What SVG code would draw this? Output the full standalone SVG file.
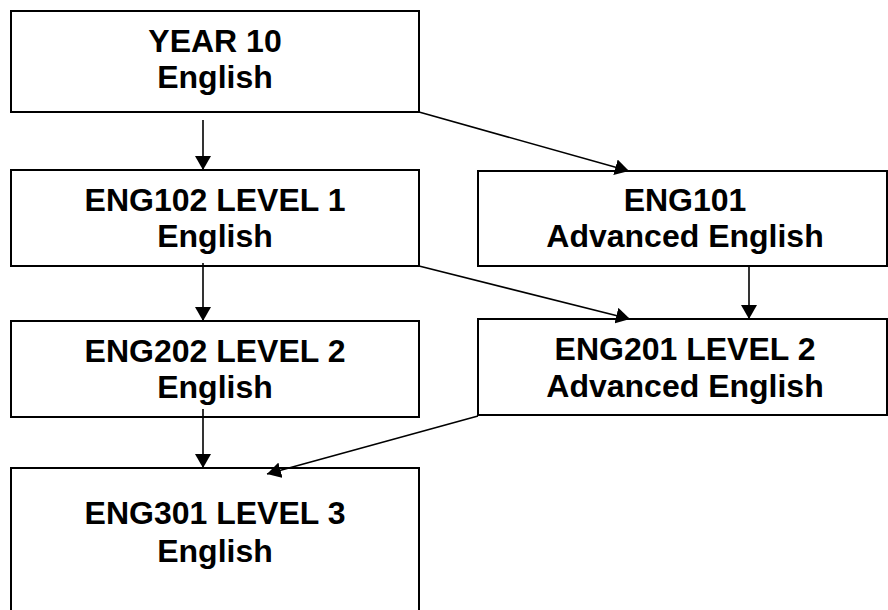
<svg xmlns="http://www.w3.org/2000/svg" width="888" height="610" viewBox="0 0 888 610">
<style>
.box{fill:#fff;stroke:#000;stroke-width:2}
.t{font-family:"Liberation Sans",Arial,sans-serif;font-weight:bold;font-size:32px;text-anchor:middle;fill:#000}
.c{stroke:#000;stroke-width:1.6;fill:none;marker-end:url(#ah)}
</style>
<defs>
<marker id="ah" markerUnits="userSpaceOnUse" markerWidth="14" markerHeight="16" refX="14" refY="8" orient="auto">
<path d="M0,0 L14,8 L0,16 z" fill="#000"/>
</marker>
</defs>
<rect width="888" height="610" fill="#fff"/>
<g id="year10">
<rect class="box" x="11" y="11" width="408" height="101"/>
<text class="t" x="215" y="52">YEAR 10</text>
<text class="t" x="215" y="88">English</text>
</g>
<g id="eng102">
<rect class="box" x="11" y="170" width="408" height="96"/>
<text class="t" x="215" y="211">ENG102 LEVEL 1</text>
<text class="t" x="215" y="247">English</text>
</g>
<g id="eng101">
<rect class="box" x="478" y="171" width="409" height="95"/>
<text class="t" x="685" y="211">ENG101</text>
<text class="t" x="685" y="247">Advanced English</text>
</g>
<g id="eng202">
<rect class="box" x="11" y="321" width="408" height="96"/>
<text class="t" x="215" y="362">ENG202 LEVEL 2</text>
<text class="t" x="215" y="398">English</text>
</g>
<g id="eng201">
<rect class="box" x="478" y="319" width="409" height="96"/>
<text class="t" x="685" y="360">ENG201 LEVEL 2</text>
<text class="t" x="685" y="397">Advanced English</text>
</g>
<g id="eng301">
<rect class="box" x="11" y="468" width="408" height="160"/>
<text class="t" x="215" y="524">ENG301 LEVEL 3</text>
<text class="t" x="215" y="562">English</text>
</g>
<g id="connectors">
<line class="c" x1="203" y1="120" x2="203" y2="170"/>
<line class="c" x1="419" y1="112" x2="629" y2="171"/>
<line class="c" x1="203" y1="263" x2="203" y2="321"/>
<line class="c" x1="419" y1="266" x2="630" y2="319"/>
<line class="c" x1="749" y1="266" x2="749" y2="319"/>
<line class="c" x1="203" y1="409" x2="203" y2="468"/>
<line class="c" x1="478" y1="416" x2="267" y2="474"/>
</g>
</svg>
